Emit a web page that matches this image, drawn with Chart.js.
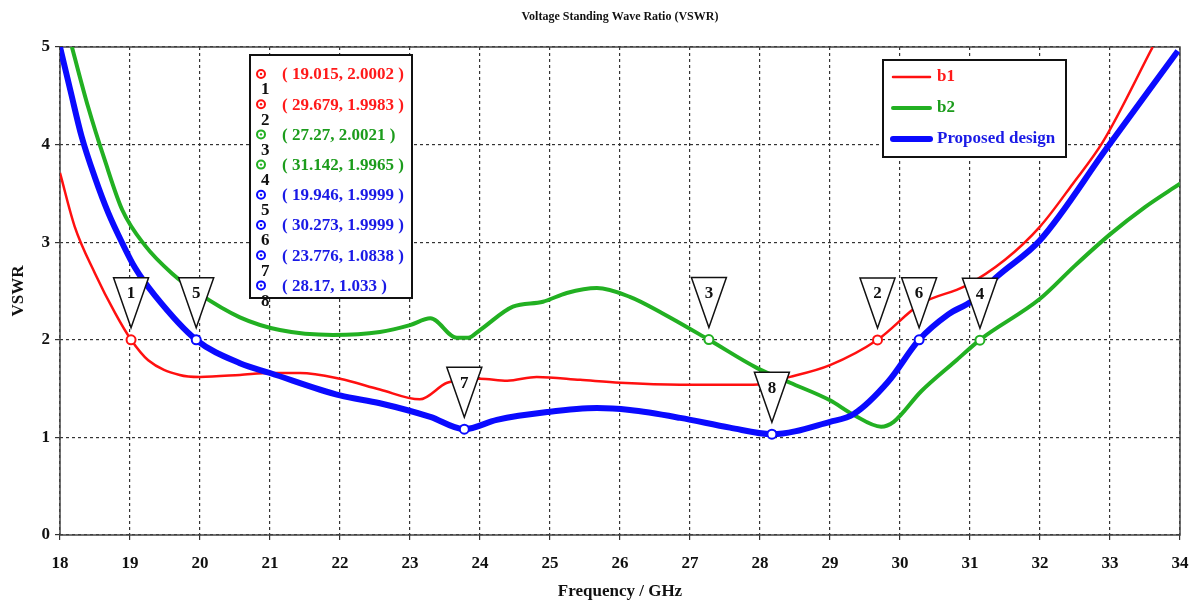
<!DOCTYPE html>
<html lang="en">
<head>
<meta charset="UTF-8">
<title>VSWR</title>
<script src="https://cdn.jsdelivr.net/npm/chart.js"></script>
<style>
  body { margin: 0; background: #fff; }
  #wrap { width: 1191px; height: 604px; }
</style>
</head>
<body>
<div id="wrap"><canvas id="vswrChart"></canvas></div>
<script>
    const seriesNames = ['b1', 'b2', 'Proposed design'];
    const seriesColors = ['#ff1010', '#22b022', '#0a0aff'];
    const seriesText = ['#ff1a1a', '#1c9c1c', '#1a1ae6'];

    const b1Freq = [18, 18.21, 18.5, 18.79, 19.015, 19.26, 19.71, 20.0, 20.57, 21.0, 21.43, 22.0, 22.57, 23.14, 23.53, 24.0, 24.39, 24.81, 25.43, 26.0, 26.86, 27.9, 28.43, 29.0, 29.679, 30.3, 30.93, 31.5, 32.0, 32.47, 32.9, 33.61];
    const b1Vswr = [3.71, 3.16, 2.68, 2.27, 2.0, 1.79, 1.64, 1.62, 1.64, 1.66, 1.66, 1.60, 1.49, 1.39, 1.56, 1.60, 1.58, 1.62, 1.59, 1.56, 1.54, 1.54, 1.62, 1.74, 2.0, 2.37, 2.55, 2.82, 3.16, 3.6, 4.03, 5.0];

    const b2Freq = [18.17, 18.4, 18.64, 18.89, 19.21, 19.6, 19.97, 20.57, 21.14, 21.9, 22.57, 23.0, 23.29, 23.67, 23.83, 24.0, 24.47, 24.9, 25.24, 25.67, 26.14, 26.61, 27.27, 27.96, 28.43, 29.0, 29.34, 29.73, 29.91, 30.3, 30.79, 31.142, 32.0, 32.5, 33.0, 33.5, 34.0];
    const b2Vswr = [5.0, 4.39, 3.84, 3.33, 2.97, 2.68, 2.48, 2.23, 2.1, 2.05, 2.08, 2.15, 2.22, 2.02, 2.02, 2.1, 2.34, 2.39, 2.48, 2.53, 2.44, 2.27, 2.0, 1.71, 1.56, 1.38, 1.23, 1.11, 1.16, 1.47, 1.78, 2.0, 2.42, 2.76, 3.08, 3.36, 3.6];

    const propFreq = [18.0, 18.15, 18.31, 18.5, 18.69, 18.89, 19.07, 19.36, 19.946, 20.57, 21.0, 22.0, 22.57, 23.29, 23.776, 24.24, 24.96, 25.67, 26.14, 26.86, 27.57, 28.17, 29.0, 29.34, 29.83, 30.273, 30.69, 31.03, 31.39, 32.0, 32.96, 33.97];
    const propVswr = [5.0, 4.55, 4.08, 3.66, 3.3, 2.99, 2.74, 2.45, 2.0, 1.76, 1.66, 1.43, 1.35, 1.21, 1.0838, 1.18, 1.26, 1.30, 1.28, 1.20, 1.10, 1.033, 1.16, 1.24, 1.57, 2.0, 2.26, 2.40, 2.65, 3.02, 3.97, 4.96];

    // markers 1..8
    const markerNames = ['1', '2', '3', '4', '5', '6', '7', '8'];
    const markerFreq = [19.015, 29.679, 27.27, 31.142, 19.946, 30.273, 23.776, 28.17];
    const markerVswr = [2.0002, 1.9983, 2.0021, 1.9965, 1.9999, 1.9999, 1.0838, 1.033];
    const markerSeries = [0, 0, 1, 1, 2, 2, 2, 2];
    const markerText = ['( 19.015, 2.0002 )', '( 29.679, 1.9983 )', '( 27.27, 2.0021 )', '( 31.142, 1.9965 )',
        '( 19.946, 1.9999 )', '( 30.273, 1.9999 )', '( 23.776, 1.0838 )', '( 28.17, 1.033 )'];

    const xTicks = [18, 19, 20, 21, 22, 23, 24, 25, 26, 27, 28, 29, 30, 31, 32, 33, 34];
    const yTicks = [0, 1, 2, 3, 4, 5];

    const serif = '"Liberation Serif", "DejaVu Serif", serif';

    function pts(fx, vy) {
        return fx.map((f, i) => ({ x: f, y: vy[i] }));
    }

    const lineWidths = [2.5, 4, 6];
    const curveData = [pts(b1Freq, b1Vswr), pts(b2Freq, b2Vswr), pts(propFreq, propVswr)];

    const datasets = curveData.map((d, i) => ({
        label: seriesNames[i],
        data: d,
        showLine: true,
        borderColor: seriesColors[i],
        borderWidth: lineWidths[i],
        pointRadius: 0,
        cubicInterpolationMode: 'monotone',
        order: 3 - i
    }));

    // marker circles on the curves
    datasets.push({
        label: 'markers',
        data: pts(markerFreq, markerVswr),
        showLine: false,
        pointRadius: 4.5,
        pointBorderWidth: 2,
        pointBackgroundColor: '#fff',
        pointBorderColor: markerSeries.map(s => seriesColors[s]),
        order: 0
    });

    const extras = {
        id: 'extras',
        beforeDatasetsDraw(chart) {
            const { ctx, chartArea: a } = chart;
            ctx.save();
            ctx.strokeStyle = '#444';
            ctx.lineWidth = 1.5;
            ctx.strokeRect(a.left, a.top, a.right - a.left, a.bottom - a.top);
            ctx.restore();
        },
        afterDatasetsDraw(chart) {
            const { ctx, scales: { x, y } } = chart;
            ctx.save();

            // triangle flags over each marker
            ctx.font = 'bold 17px ' + serif;
            ctx.textAlign = 'center';
            ctx.textBaseline = 'middle';
            markerFreq.forEach((f, i) => {
                const px = x.getPixelForValue(f);
                const py = y.getPixelForValue(markerVswr[i]);
                const tip = py - 12, top = tip - 50;
                ctx.beginPath();
                ctx.moveTo(px - 17.5, top);
                ctx.lineTo(px + 17.5, top);
                ctx.lineTo(px, tip);
                ctx.closePath();
                ctx.fillStyle = '#fff';
                ctx.fill();
                ctx.strokeStyle = '#111';
                ctx.lineWidth = 1.5;
                ctx.stroke();
                ctx.fillStyle = '#111';
                ctx.fillText(markerNames[i], px, top + 16);
            });

            // marker value box
            ctx.fillStyle = '#fff';
            ctx.fillRect(250, 55, 162, 243);
            ctx.strokeStyle = '#111';
            ctx.lineWidth = 2;
            ctx.strokeRect(250, 55, 162, 243);
            markerText.forEach((t, i) => {
                const ry = 74 + i * 30.2;
                const c = seriesColors[markerSeries[i]];
                ctx.beginPath();
                ctx.arc(261, ry, 4, 0, Math.PI * 2);
                ctx.fillStyle = '#fff';
                ctx.fill();
                ctx.strokeStyle = c;
                ctx.lineWidth = 2;
                ctx.stroke();
                ctx.beginPath();
                ctx.arc(261, ry, 1.2, 0, Math.PI * 2);
                ctx.fillStyle = c;
                ctx.fill();
                ctx.font = 'bold 17px ' + serif;
                ctx.textAlign = 'left';
                ctx.fillStyle = seriesText[markerSeries[i]];
                ctx.fillText(t, 282, ry + 1);
                ctx.fillStyle = '#111';
                ctx.fillText(markerNames[i], 261, ry + 16);
            });

            // series legend
            ctx.fillStyle = '#fff';
            ctx.fillRect(883, 60, 183, 97);
            ctx.strokeStyle = '#111';
            ctx.lineWidth = 2;
            ctx.strokeRect(883, 60, 183, 97);
            const legY = [77, 108, 139];
            seriesNames.forEach((n, i) => {
                ctx.beginPath();
                ctx.moveTo(893, legY[i]);
                ctx.lineTo(930, legY[i]);
                ctx.strokeStyle = seriesColors[i];
                ctx.lineWidth = lineWidths[i];
                ctx.lineCap = 'round';
                ctx.stroke();
                ctx.font = 'bold 17px ' + serif;
                ctx.fillStyle = seriesText[i];
                ctx.fillText(n, 937, legY[i]);
            });
            ctx.restore();
        }
    };

    const tickFont = { family: serif, size: 17, weight: 'bold' };

    const config = {
        type: 'scatter',
        data: { datasets: datasets },
        options: {
            responsive: true,
            maintainAspectRatio: false,
            animation: false,
            layout: { padding: { left: 0, right: 11, top: 0, bottom: 0 } },
            plugins: {
                legend: { display: false },
                tooltip: { enabled: false },
                title: {
                    display: true,
                    fullSize: false,
                    text: 'Voltage Standing Wave Ratio (VSWR)',
                    color: '#111',
                    font: { family: serif, size: 12, weight: 'bold' },
                    padding: { top: 10, bottom: 22.6 }
                }
            },
            scales: {
                x: {
                    type: 'linear',
                    min: 18,
                    max: 34,
                    afterBuildTicks: s => { s.ticks = xTicks.map(v => ({ value: v })); },
                    afterFit: s => { s.height = 69; s.paddingRight = 0; s.paddingLeft = 0; },
                    ticks: { color: '#111', font: tickFont, padding: 13 },
                    grid: { color: '#333', lineWidth: 1.2, tickLength: 5, tickBorderDash: [], tickColor: '#333' },
                    border: { display: false, dash: [3, 3] },
                    title: {
                        display: true,
                        text: 'Frequency / GHz',
                        color: '#111',
                        font: { family: serif, size: 17, weight: 'bold' },
                        padding: { top: 4, bottom: 2 }
                    }
                },
                y: {
                    min: 0,
                    max: 5,
                    afterBuildTicks: s => { s.ticks = yTicks.map(v => ({ value: v })); },
                    afterFit: s => { s.width = 60; },
                    ticks: { color: '#111', font: tickFont, padding: 5 },
                    grid: { color: '#333', lineWidth: 1.2, tickLength: 5, tickBorderDash: [], tickColor: '#333' },
                    border: { display: false, dash: [3, 3] },
                    title: {
                        display: true,
                        text: 'VSWR',
                        color: '#111',
                        font: { family: serif, size: 17, weight: 'bold' },
                        padding: { top: 8, bottom: 4 }
                    }
                }
            }
        },
        plugins: [extras]
    };

    const chart = new Chart(document.getElementById('vswrChart'), config);
</script>
</body>
</html>
